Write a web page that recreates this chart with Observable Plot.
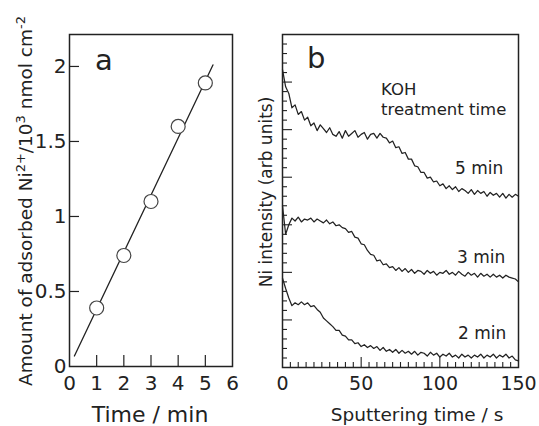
<!DOCTYPE html>
<html><head><meta charset="utf-8">
<script src="https://cdn.jsdelivr.net/npm/d3@7"></script>
<script src="https://cdn.jsdelivr.net/npm/@observablehq/plot@0.6"></script>
<style>
body{margin:0;background:#fff;}
#wrap{position:relative;width:539px;height:426px;overflow:hidden;font-family:"DejaVu Sans",sans-serif;color:#222;}
#wrap > svg{position:absolute;top:0;}
</style></head><body><div id="wrap"></div>
<script>
// Panel a: adsorbed Ni2+ vs KOH treatment time
const treatTime = [1, 2, 3, 4, 5];
const adsorbed = [0.39, 0.74, 1.10, 1.60, 1.89];
const fitTime = [0.18, 5.28];
const fitAdsorbed = [0.07, 2.01];
const aXTicks = [0, 1, 2, 3, 4, 5, 6];
const aYTicks = [0, 0.5, 1, 1.5, 2];

// Panel b: Ni intensity depth profiles
const sputterTime = [0,2,4,6,8,10,12,14,16,18,20,22,24,26,28,30,32,34,36,38,40,42,44,46,48,50,52,54,56,58,60,62,64,66,68,70,72,74,76,78,80,82,84,86,88,90,92,94,96,98,100,102,104,106,108,110,112,114,116,118,120,122,124,126,128,130,132,134,136,138,140,142,144,146,148,150];
const ni5min = [31.3,29.5,28.8,27.3,27.6,26.6,26.9,26.0,26.3,25.4,
 25.7,24.9,25.5,25.1,24.7,25.2,24.5,24.3,24.8,24.1,
 24.9,24.3,24.6,24.9,24.2,24.5,24.7,24.0,24.5,24.6,
 24.1,24.6,24.2,24.1,23.6,23.8,23.1,23.2,22.5,22.6,
 21.9,21.9,21.2,21.1,20.5,20.5,19.9,20.0,19.5,19.6,
 19.1,19.3,18.8,19.1,18.7,19.0,18.5,18.8,18.6,18.3,
 18.7,18.2,18.6,18.3,18.5,18.0,18.4,18.1,18.3,17.9,
 18.3,17.8,18.2,17.9,18.2,18.0];
const ni3min = [17.0,14.0,15.0,15.7,15.4,15.8,15.3,15.6,15.5,15.7,
 15.3,15.6,15.4,15.2,15.5,15.1,15.3,14.9,15.0,14.7,
 14.6,14.2,14.3,13.7,13.6,13.0,12.9,12.3,11.9,11.8,
 11.2,11.3,10.8,10.9,10.5,10.6,10.2,10.5,10.1,10.4,
 10.0,10.3,9.9,10.2,10.1,9.8,10.2,9.9,10.1,9.7,
 10.0,9.9,10.2,9.8,10.0,9.7,10.1,9.8,9.6,10.0,
 9.7,9.9,9.5,9.9,9.6,9.8,9.5,9.8,9.5,9.7,
 9.4,9.7,9.5,9.4,9.3,9.0];
const ni2min = [9.4,8.3,7.3,6.5,6.8,6.6,6.9,6.6,6.8,6.4,
 6.5,6.1,5.8,5.2,4.9,4.6,4.3,3.9,3.9,3.4,
 3.3,2.9,2.9,2.5,2.6,2.2,2.4,2.1,2.3,2.0,
 2.2,1.8,2.1,1.7,1.9,1.6,1.9,1.5,1.8,1.5,
 1.7,1.4,1.7,1.3,1.6,1.5,1.2,1.6,1.3,1.5,
 1.1,1.4,1.2,1.5,1.1,1.3,1.0,1.4,1.1,1.3,
 1.0,1.3,1.1,1.4,1.0,1.3,1.1,1.4,1.0,1.3,
 1.1,1.4,1.0,1.2,0.8,0.7];
const seriesLabels = ["5 min", "3 min", "2 min"];
const bXTicks = [0, 50, 100, 150];
const bXMajor = [50, 100];
const bXMinor = [5,10,15,20,25,30,35,40,45,55,60,65,70,75,80,85,90,95,105,110,115,120,125,130,135,140,145];
const bYMajor = [5, 10, 15, 20, 25, 30];
const bYMinor = [1,2,3,4,6,7,8,9,11,12,13,14,16,17,18,19,21,22,23,24,26,27,28,29,31,32,33,34];

const ink = "#222";
const baseStyle = {fontFamily: "DejaVu Sans, sans-serif", fontSize: "20px", color: ink, background: "transparent", overflow: "visible"};
const blank = () => "";

const pa = Plot.plot({
  width: 270, height: 426,
  marginLeft: 69, marginRight: 38, marginTop: 34, marginBottom: 60,
  x: {domain: [0, 6]}, y: {domain: [0, 2.213]},
  style: baseStyle,
  marks: [
    Plot.axisX(aXTicks.slice(1, -1), {tickSize: -11, tickFormat: blank, label: null, strokeWidth: 1.2}),
    Plot.axisX(aXTicks, {tickSize: 0, tickPadding: 9, label: null, fontSize: 20}),
    Plot.axisY(aYTicks.slice(1), {tickSize: -10, tickFormat: blank, label: null, strokeWidth: 1.2}),
    Plot.axisY(aYTicks, {tickSize: 0, tickPadding: 3, label: null, fontSize: 20, tickFormat: d => String(d)}),
    Plot.line(fitTime.map((t, i) => ({t, v: fitAdsorbed[i]})), {x: "t", y: "v", stroke: ink, strokeWidth: 1.3}),
    Plot.dot(treatTime.map((t, i) => ({t, v: adsorbed[i]})), {x: "t", y: "v", r: 7, fill: "white", stroke: "#444", strokeWidth: 1.2}),
    Plot.frame({stroke: ink, strokeWidth: 1.5})
  ]
});
pa.style.left = "0px";

const profiles = [ni5min, ni3min, ni2min].flatMap((arr, k) =>
  sputterTime.map((t, i) => ({t, v: arr[i], s: seriesLabels[k]})));

const pb = Plot.plot({
  width: 289, height: 426,
  marginLeft: 32, marginRight: 21, marginTop: 34, marginBottom: 59,
  x: {domain: [0, 150]}, y: {domain: [0, 35]},
  style: baseStyle,
  marks: [
    Plot.axisX(bXMinor, {tickSize: -5, tickFormat: blank, label: null, strokeWidth: 1.1}),
    Plot.axisX(bXMajor, {tickSize: -10, tickFormat: blank, label: null, strokeWidth: 1.1}),
    Plot.axisX(bXTicks, {tickSize: 0, tickPadding: 9, label: null, fontSize: 19}),
    Plot.axisY(bYMinor, {tickSize: -5, tickFormat: blank, label: null, strokeWidth: 1.1}),
    Plot.axisY(bYMajor, {tickSize: -10, tickFormat: blank, label: null, strokeWidth: 1.1}),
    Plot.line(profiles, {x: "t", y: "v", z: "s", stroke: ink, strokeWidth: 1.25}),
    Plot.frame({stroke: ink, strokeWidth: 1.5})
  ]
});
pb.style.left = "250px";

const wrap = document.getElementById("wrap");
wrap.append(pa, pb);

// Overlay for labels and annotations
const ov = d3.select(wrap).append("svg")
  .attr("width", 539).attr("height", 426)
  .style("left", "0px").style("pointer-events", "none")
  .attr("font-family", "DejaVu Sans, sans-serif").attr("fill", ink);

function label(txt, x, y, size, anchor = "start") {
  ov.append("text").attr("x", x).attr("y", y).attr("font-size", size).attr("text-anchor", anchor).text(txt);
}
label("a", 95, 70, 29);
label("b", 307, 68, 29);
label("KOH", 381, 95, 16.5);
label("treatment time", 381, 115, 16.5);
label(seriesLabels[0], 455, 174, 17);
label(seriesLabels[1], 457, 263, 17);
label(seriesLabels[2], 458, 339, 17);
label("Time / min", 150, 422, 22, "middle");
label("Sputtering time / s", 417, 421, 18.5, "middle");

const ya = ov.append("text").attr("transform", "translate(32,201) rotate(-90)")
  .attr("text-anchor", "middle").attr("font-size", 18.5);
ya.append("tspan").text("Amount of adsorbed Ni");
ya.append("tspan").attr("font-size", 13).attr("dy", -7).text("2+");
ya.append("tspan").attr("dy", 7).text("/10");
ya.append("tspan").attr("font-size", 13).attr("dy", -7).text("3");
ya.append("tspan").attr("dy", 7).text(" nmol cm");
ya.append("tspan").attr("font-size", 13).attr("dy", -7).text("-2");

ov.append("text").attr("transform", "translate(272,192) rotate(-90)")
  .attr("text-anchor", "middle").attr("font-size", 17).text("Ni intensity (arb units)");
</script></body></html>
